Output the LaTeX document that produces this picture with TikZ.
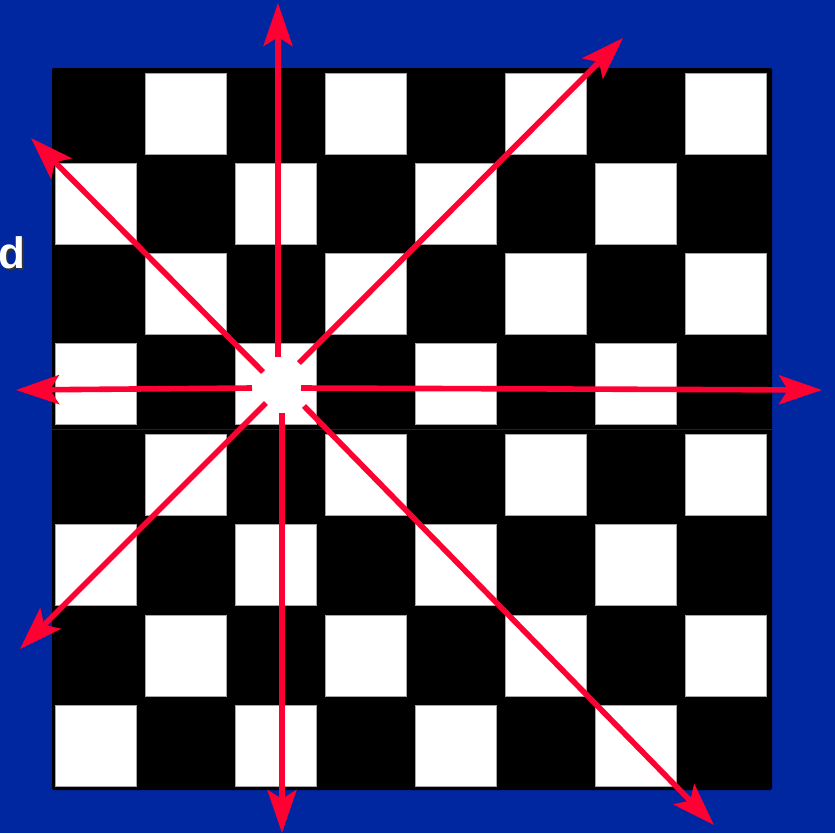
\documentclass[tikz,border=0pt]{standalone}
\usepackage{fontspec}
\setmainfont{Liberation Sans}
\usetikzlibrary{arrows.meta}
\definecolor{bgblue}{RGB}{0,38,160}
\definecolor{arrred}{RGB}{255,0,50}
\definecolor{seamblue}{RGB}{10,30,120}
\tikzset{
  whitesq/.style={fill=white,draw=black!35,line width=0.7pt},
  ray/.style={draw=arrred,line width=5.6pt,
    -{Stealth[length=43pt,width=29pt,inset=9pt]}},
  letter/.style={inner sep=0pt,anchor=base east,font=\fontsize{44}{44}\selectfont\bfseries}
}
\begin{document}
\begin{tikzpicture}[x=1pt,y=-1pt]
\useasboundingbox (0,0) rectangle (835,833);
\clip (0,0) rectangle (835,833);
\fill[bgblue] (0,0) rectangle (835,833);
% label with shadow
\node[letter,text=white] (dlabel) at (26,268)
  {\rlap{\kern2pt\raisebox{-2pt}{\textcolor{black!80}{d}}}d};
% board
\fill[black,rounded corners=2pt] (52,68) rectangle (772,790);
\foreach \y [count=\r from 0] in {73,163,253,343,434,524,615,705} {
  \foreach \c in {0,...,7} {
    \pgfmathtruncatemacro\odd{mod(\r+\c,2)}
    \ifnum\odd=1
      \draw[whitesq] ({55+90.1*\c},\y) rectangle +(81,81);
    \fi
  }
}
\draw[seamblue,line width=1pt] (52,429) -- (772,429);
% arrows
\coordinate (sU) at (278,357);  \coordinate (eU) at (278,3);
\coordinate (sUR) at (299,363); \coordinate (eUR) at (623,38);
\coordinate (sUL) at (263,372); \coordinate (eUL) at (31,138);
\coordinate (sL) at (252,388);  \coordinate (eL) at (16,390);
\coordinate (sR) at (301,388);  \coordinate (eR) at (822,390);
\coordinate (sD) at (282,413);  \coordinate (eD) at (282,833);
\coordinate (sDL) at (266,403); \coordinate (eDL) at (20,649);
\coordinate (sDR) at (304,406); \coordinate (eDR) at (714,825);
\foreach \a in {U,UR,UL,L,R,D,DL,DR} {
  \draw[ray] (s\a) -- (e\a);
}
\end{tikzpicture}
\end{document}
